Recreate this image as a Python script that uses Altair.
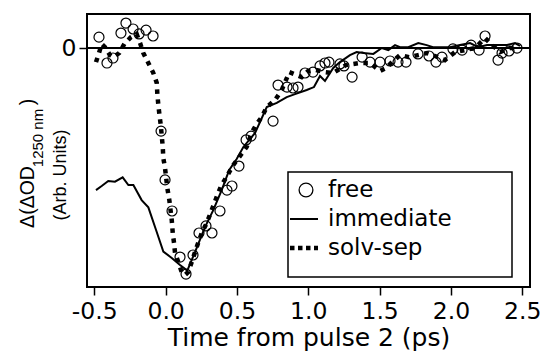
import altair as alt
import pandas as pd

# ---- data ----
free_t = [-0.467, -0.411, -0.369, -0.313, -0.278, -0.228, -0.186, -0.137, -0.088, -0.032,
          -0.004, 0.045, 0.101, 0.143, 0.192, 0.234, 0.283, 0.325, 0.381, 0.430,
          0.465, 0.514, 0.564, 0.599, 0.753, 0.788, 0.851, 0.893, 0.928, 0.977,
          1.033, 1.082, 1.117, 1.145, 1.222, 1.250, 1.307, 1.377, 1.433, 1.503,
          1.573, 1.629, 1.685, 1.769, 1.846, 1.895, 1.937, 2.014, 2.078, 2.141,
          2.197, 2.239, 2.330, 2.358, 2.407, 2.463]
free_v = [0.048, -0.066, -0.044, 0.066, 0.110, 0.084, 0.062, 0.079, 0.053, -0.366,
          -0.581, -0.718, -0.921, -0.996, -0.912, -0.815, -0.784, -0.815, -0.718, -0.626,
          -0.608, -0.520, -0.405, -0.388, -0.322, -0.163, -0.172, -0.176, -0.172, -0.110,
          -0.106, -0.079, -0.066, -0.062, -0.070, -0.079, -0.128, -0.040, -0.062, -0.062,
          -0.057, -0.062, -0.062, -0.026, -0.035, -0.062, -0.040, -0.004, -0.009, 0.013,
          -0.009, 0.053, -0.053, -0.022, -0.013, 0.000]

imm_t = [-0.488, -0.448, -0.402, -0.355, -0.301, -0.261, -0.226, -0.168, -0.121, -0.067,
         -0.016, 0.043, 0.101, 0.152, 0.206, 0.276, 0.334, 0.393, 0.446, 0.498,
         0.545, 0.627, 0.709, 0.779, 0.849, 0.907, 0.989, 1.040, 1.082, 1.117,
         1.175, 1.222, 1.292, 1.339, 1.386, 1.456, 1.515, 1.561, 1.608, 1.643,
         1.701, 1.771, 1.830, 1.874, 1.923, 1.993, 2.063, 2.134, 2.190, 2.253,
         2.323, 2.393, 2.449, 2.484]
imm_v = [-0.626, -0.608, -0.586, -0.589, -0.570, -0.604, -0.604, -0.670, -0.702, -0.802,
         -0.897, -0.925, -0.956, -0.981, -0.899, -0.789, -0.714, -0.626, -0.537, -0.489,
         -0.436, -0.374, -0.260, -0.242, -0.216, -0.203, -0.185, -0.172, -0.123, -0.145,
         -0.088, -0.062, -0.031, -0.018, -0.022, -0.026, 0.000, -0.009, 0.013, 0.004,
         0.004, 0.022, 0.013, 0.004, 0.004, 0.004, 0.013, 0.022, 0.004, 0.013,
         0.013, 0.013, 0.022, 0.009]

sep_t = [-0.488, -0.467, -0.448, -0.425, -0.390, -0.367, -0.325, -0.289, -0.243, -0.203,
         -0.179, -0.156, -0.121, -0.086, -0.062, -0.058, -0.051, -0.043, -0.034, -0.020,
         -0.016, -0.004, 0.012, 0.026, 0.043, 0.050, 0.059, 0.066, 0.089, 0.113,
         0.136, 0.159, 0.183, 0.218, 0.253, 0.288, 0.323, 0.358, 0.386, 0.475,
         0.568, 0.603, 0.634, 0.674, 0.709, 0.767, 0.814, 0.867, 0.954, 1.000,
         1.054, 1.117, 1.173, 1.264, 1.363, 1.433, 1.503, 1.545, 1.587, 1.643,
         1.706, 1.769, 1.832, 1.888, 1.958, 2.028, 2.099, 2.169, 2.239, 2.288,
         2.344, 2.414, 2.470]
sep_v = [-0.062, -0.022, 0.018, 0.004, -0.031, -0.040, -0.022, 0.018, 0.048, 0.062,
         0.022, -0.022, -0.066, -0.110, -0.154, -0.203, -0.251, -0.295, -0.339, -0.436,
         -0.485, -0.529, -0.617, -0.670, -0.758, -0.815, -0.859, -0.903, -0.943, -0.987,
         -1.000, -0.987, -0.943, -0.877, -0.815, -0.771, -0.714, -0.656, -0.612, -0.515,
         -0.436, -0.374, -0.339, -0.304, -0.260, -0.229, -0.185, -0.106, -0.128, -0.101,
         -0.097, -0.106, -0.110, -0.075, -0.066, -0.066, -0.101, -0.088, -0.062, -0.031,
         -0.040, -0.031, -0.022, -0.035, -0.053, -0.018, -0.009, 0.000, 0.044, 0.013,
         -0.018, 0.000, 0.000]

x_ticks = [-0.5, 0.0, 0.5, 1.0, 1.5, 2.0, 2.5]
y_ticks = [0]
zero_level = [0]
legend_labels = ["free", "immediate", "solv-sep"]
x_title = "Time from pulse 2 (ps)"
y_title_main = "\u0394(\u0394OD"
y_title_sub = "1250 nm"
y_title_close = ")"
y_title_line2 = "(Arb. Units)"

XDOM = [-0.551, 2.554]
YDOM = [-1.053, 0.150]
FONT = "DejaVu Sans"
TFONT = "Liberation Sans"

free_df = pd.DataFrame({"t": free_t, "v": free_v})
imm_df = pd.DataFrame({"t": imm_t, "v": imm_v})
sep_df = pd.DataFrame({"t": sep_t, "v": sep_v})
zero_df = pd.DataFrame({"v": zero_level})
one = pd.DataFrame({"k": [0]})

xs = alt.Scale(domain=XDOM, nice=False, zero=False)
ys = alt.Scale(domain=YDOM, nice=False, zero=False)

x_axis = alt.Axis(values=x_ticks, title=x_title,
                  labelExpr="replace(format(datum.value, '.1f'), '\u2212', '-')",
                  tickSize=8, labelPadding=4, titlePadding=3, labelFlush=False,
                  labelOverlap=False)
y_axis = alt.Axis(values=y_ticks, title=None, tickSize=8, labelPadding=3,
                  labelExpr="'0'")

X = alt.X("t:Q", scale=xs, axis=x_axis)
Y = alt.Y("v:Q", scale=ys, axis=y_axis)

zero_rule = alt.Chart(zero_df).mark_rule(color="black", strokeWidth=2).encode(
    y=alt.Y("v:Q", scale=ys, axis=y_axis))

imm_line = alt.Chart(imm_df).mark_line(color="black", strokeWidth=2).encode(x=X, y=Y)

sep_line = alt.Chart(sep_df).mark_line(color="black", strokeWidth=4.5,
                                       strokeDash=[4.5, 5.5], strokeCap="butt").encode(x=X, y=Y)

free_pts = alt.Chart(free_df).mark_point(shape="circle", filled=False, color="black",
                                         size=100, strokeWidth=1.2, opacity=1).encode(x=X, y=Y)


# ---- y-axis title (with subscript), each piece centred on its own span ----
def ytext(txt, size, xpos, ypos):
    return alt.Chart(one).mark_text(text=txt, font=TFONT, fontSize=size, angle=270,
                                    align="center", baseline="alphabetic",
                                    color="black").encode(x=alt.value(xpos), y=alt.value(ypos))


yt1 = ytext(y_title_main, 19.5, -53, 183)
yt2 = ytext(y_title_sub, 15, -44, 124)
yt3 = ytext(y_title_close, 19.5, -53, 88)
yt4 = ytext(y_title_line2, 18, -21, 161)

# ---- legend ----
leg_box = alt.Chart(one).mark_rect(fill="white", stroke="black", strokeWidth=1.5).encode(
    x=alt.value(201), x2=alt.value(425), y=alt.value(158), y2=alt.value(263))
leg_circle = alt.Chart(one).mark_point(shape="circle", filled=False, color="black",
                                       size=190, strokeWidth=1.3, opacity=1).encode(
    x=alt.value(219), y=alt.value(176))
leg_solid = alt.Chart(one).mark_rule(color="black", strokeWidth=2).encode(
    x=alt.value(203), x2=alt.value(231), y=alt.value(205))
leg_dot = alt.Chart(one).mark_rule(color="black", strokeWidth=4.5, strokeDash=[4.5, 3.5],
                                   strokeCap="butt").encode(
    x=alt.value(203), x2=alt.value(231), y=alt.value(234))


def legtext(txt, ypos):
    return alt.Chart(one).mark_text(text=txt, font=FONT, fontSize=23, align="left",
                                    baseline="middle", color="black").encode(
        x=alt.value(241), y=alt.value(ypos))


leg_t1 = legtext(legend_labels[0], 176)
leg_t2 = legtext(legend_labels[1], 205)
leg_t3 = legtext(legend_labels[2], 234)

chart = alt.layer(
    zero_rule, imm_line, sep_line, free_pts,
    leg_box, leg_circle, leg_solid, leg_dot, leg_t1, leg_t2, leg_t3,
    yt1, yt2, yt3, yt4,
).properties(
    width=443, height=273,
    autosize=alt.AutoSizeParams(type="none"),
    padding={"left": 87, "top": 14, "right": 13, "bottom": 75},
    background="white",
).configure_view(
    stroke="black", strokeWidth=2
).configure_axis(
    labelFont=FONT, labelFontSize=23.5, labelColor="black",
    titleFont=FONT, titleFontSize=25, titleColor="black", titleFontWeight="normal",
    tickColor="black", tickWidth=1.5, domain=False, grid=False,
)

chart.save("out.html", embed_options={"renderer": "svg", "actions": False})
